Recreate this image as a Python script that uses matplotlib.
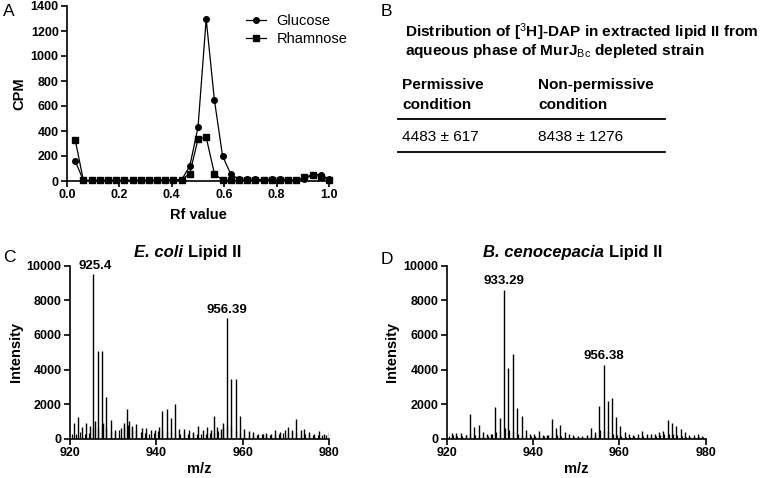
import matplotlib.pyplot as plt
import numpy as np
from matplotlib.lines import Line2D
from matplotlib.offsetbox import TextArea, HPacker, AnchoredOffsetbox

plt.rcParams['font.family'] = ['Liberation Sans', 'DejaVu Sans']
plt.rcParams['mathtext.fontset'] = 'custom'
plt.rcParams['mathtext.rm'] = 'Liberation Sans'
plt.rcParams['mathtext.it'] = 'Liberation Sans:italic'
plt.rcParams['mathtext.bf'] = 'Liberation Sans:bold'

# ===== panel A: radio-TLC fractions =====
rf = np.arange(1, 33) / 32
glucose = [160, 5, 5, 5, 5, 5, 5, 5, 5, 5, 10, 10, 10, 10, 120, 430,
           1295, 650, 200, 55, 15, 15, 15, 10, 15, 15, 10, 10, 15, 50, 50, 15]
rhamnose = [330, 5, 5, 5, 5, 5, 5, 5, 5, 5, 5, 5, 5, 10, 60, 335,
            350, 60, 5, 5, 5, 5, 5, 5, 5, 5, 5, 5, 30, 50, 35, 10]

# ===== panel C: E. coli lipid II spectrum (main peaks) =====
ec_mz = [920.9, 921.8, 922.8, 923.7, 924.6, 925.4, 925.8, 926.4, 927.4, 927.7,
         928.3, 929.4, 930.4, 931.8, 932.6, 933.3, 933.7, 934.4, 935.4, 936.6,
         937.6, 938.7, 939.7, 940.7, 941.4, 942.4, 943.3, 944.3, 945.3, 946.4,
         947.5, 948.6, 949.7, 950.7, 951.7, 952.7, 953.3, 954.0, 955.0, 955.4,
         956.4, 957.4, 958.4, 959.4, 960.4, 961.4, 962.5, 963.6, 964.6, 965.5,
         966.5, 967.6, 968.6, 969.7, 970.4, 971.4, 972.4, 973.4, 974.3, 975.4,
         976.5, 977.6, 978.8, 979.9]
ec_int = [890, 1270, 690, 880, 750, 9500, 1000, 5070, 5070, 890,
          2390, 1080, 500, 600, 920, 1700, 1000, 750, 830, 600,
          600, 480, 480, 700, 1600, 1700, 1200, 2000, 560, 560,
          520, 400, 750, 480, 700, 480, 1300, 680, 550, 900,
          6960, 3470, 3470, 1300, 560, 420, 370, 300, 250, 330,
          300, 480, 370, 520, 700, 520, 1150, 520, 550, 400,
          300, 450, 300, 400]
# minor baseline peaks, one per unit starting at 920.4
ec_minor = [300, 250, 400, 300, 350, 600, 700, 800, 600, 450,
            400, 500, 700, 800, 600, 500, 400, 350, 300, 350,
            450, 500, 450, 400, 350, 300, 350, 300, 250, 300,
            300, 250, 350, 400, 450, 700, 800, 750, 500, 350,
            250, 200, 200, 200, 250, 250, 200, 250, 300, 350,
            300, 400, 350, 300, 250, 250, 200, 200, 200, 200]

# ===== panel D: B. cenocepacia lipid II spectrum (main peaks) =====
bc_mz = [921.2, 922.2, 923.3, 924.3, 925.3, 926.3, 927.4, 928.4, 929.3, 930.3,
         931.2, 932.2, 933.2, 934.2, 935.2, 936.3, 937.3, 938.3, 939.2, 940.1,
         941.4, 942.3, 943.3, 944.3, 945.3, 946.3, 947.3, 948.3, 949.3, 950.3,
         951.3, 952.4, 953.4, 954.3, 955.2, 956.3, 957.3, 958.3, 959.3, 960.2,
         961.3, 962.3, 963.2, 964.2, 965.3, 966.3, 967.2, 968.2, 969.2, 970.2,
         971.2, 972.2, 973.2, 974.2, 975.2, 976.2, 977.2, 978.1, 979.1]
bc_int = [350, 350, 350, 200, 1430, 700, 770, 400, 300, 250,
          1830, 1180, 8600, 4070, 4880, 1750, 1310, 500, 300, 300,
          440, 200, 200, 1120, 640, 770, 370, 300, 200, 170,
          170, 200, 600, 300, 1890, 4260, 2180, 2370, 1230, 730,
          370, 250, 200, 250, 440, 300, 300, 300, 390, 440,
          1080, 920, 730, 580, 400, 200, 200, 250, 150]
bc_minor = [150, 200, 150, 150, 200, 250, 200, 150, 150, 150,
            300, 400, 500, 600, 500, 400, 300, 200, 150, 150,
            150, 150, 150, 200, 250, 200, 150, 100, 100, 100,
            100, 100, 150, 200, 400, 500, 500, 450, 300, 200,
            150, 100, 100, 150, 150, 150, 150, 150, 150, 200,
            300, 300, 250, 200, 150, 100, 100, 100, 100, 100]

fig = plt.figure(figsize=(7.67, 4.78), dpi=100)


def px(x, y):
    return x / 767, 1 - y / 478


def style(ax):
    for s in ['top', 'right']:
        ax.spines[s].set_visible(False)
    for s in ['left', 'bottom']:
        ax.spines[s].set_linewidth(1.2)
    ax.tick_params(direction='out', length=4, width=1.2, labelsize=9, pad=2)
    for lab in ax.get_xticklabels() + ax.get_yticklabels():
        lab.set_fontweight('bold')


def species_title(ax, species, x_frac):
    # italic species name followed by upright "Lipid II"
    box = HPacker(children=[
        TextArea(species, textprops=dict(fontsize=12, fontweight='bold', style='italic')),
        TextArea('Lipid II', textprops=dict(fontsize=12, fontweight='bold'))],
        align='baseline', pad=0, sep=4)
    anchored = AnchoredOffsetbox(loc='lower center', child=box, frameon=False, pad=0,
                                 bbox_to_anchor=(x_frac, 1.035),
                                 bbox_transform=ax.transAxes, borderpad=0)
    ax.add_artist(anchored)


# ---- A ----
axA = fig.add_axes([67 / 767, 1 - 181 / 478, 262 / 767, 175 / 478])
axA.plot(rf, glucose, '-o', color='black', lw=0.9, ms=4, label='Glucose', clip_on=False)
axA.plot(rf, rhamnose, '-s', color='black', lw=0.9, ms=4, label='Rhamnose', clip_on=False)
axA.set_xlim(0, 1.0)
axA.set_ylim(0, 1400)
axA.set_xticks(np.arange(0, 1.01, 0.2))
axA.set_xticklabels(['0.0', '0.2', '0.4', '0.6', '0.8', '1.0'])
axA.set_yticks(np.arange(0, 1401, 200))
style(axA)
axA.set_xlabel('Rf value', fontsize=10.5, fontweight='bold', labelpad=5)
axA.set_ylabel('CPM', fontsize=10.5, fontweight='bold', labelpad=3)
axA.legend(loc='upper right', bbox_to_anchor=(1.12, 1.03), frameon=False,
           fontsize=10.5, handlelength=1.4, handletextpad=0.7, labelspacing=0.3)

# ---- C ----
axC = fig.add_axes([70 / 767, 1 - 438.7 / 478, 259 / 767, 173 / 478])
axC.vlines(np.arange(920.4, 980, 1.0), 0, ec_minor, color='black', lw=0.9)
axC.vlines(ec_mz, 0, ec_int, color='black', lw=1.0)
axC.set_xlim(920, 980)
axC.set_ylim(0, 10000)
axC.set_xticks([920, 940, 960, 980])
axC.set_yticks(np.arange(0, 10001, 2000))
style(axC)
axC.set_xlabel('m/z', fontsize=10.5, fontweight='bold', labelpad=2)
axC.set_ylabel('Intensity', fontsize=10.5, fontweight='bold', labelpad=3)
species_title(axC, 'E. coli', 0.455)
axC.text(925.9, 9500 + 150, '925.4', ha='center', va='bottom', fontsize=9.5, fontweight='bold')
axC.text(956.39, 6960 + 150, '956.39', ha='center', va='bottom', fontsize=9.5, fontweight='bold')

# ---- D ----
axD = fig.add_axes([447 / 767, 1 - 438.7 / 478, 258.7 / 767, 173 / 478])
axD.vlines(np.arange(920.4, 980, 1.0), 0, bc_minor, color='black', lw=0.9)
axD.vlines(bc_mz, 0, bc_int, color='black', lw=1.0)
axD.set_xlim(920, 980)
axD.set_ylim(0, 10000)
axD.set_xticks([920, 940, 960, 980])
axD.set_yticks(np.arange(0, 10001, 2000))
style(axD)
axD.set_xlabel('m/z', fontsize=10.5, fontweight='bold', labelpad=2)
axD.set_ylabel('Intensity', fontsize=10.5, fontweight='bold', labelpad=3)
species_title(axD, 'B. cenocepacia', 0.485)
axD.text(933.29, 8600 + 150, '933.29', ha='center', va='bottom', fontsize=9.5, fontweight='bold')
axD.text(956.38, 4260 + 150, '956.38', ha='center', va='bottom', fontsize=9.5, fontweight='bold')

# ---- panel letters ----
for letter, (x, y) in {'A': (3, 11), 'B': (381, 12), 'C': (3, 258), 'D': (381, 259)}.items():
    fig.text(*px(x, y), letter, fontsize=12.5, ha='left', va='center')

# ---- B: table ----
fs = 11.1
fig.text(*px(405, 32), r'Distribution of [$^{3}$H]-DAP in extracted lipid II from',
         fontsize=fs, fontweight='bold', va='center')
fig.text(*px(405, 51), r'aqueous phase of MurJ$_{\mathrm{Bc}}$ depleted strain',
         fontsize=fs, fontweight='bold', va='center')
fig.text(*px(402, 85), 'Permissive', fontsize=fs, fontweight='bold', va='center')
fig.text(*px(402, 105), 'condition', fontsize=fs, fontweight='bold', va='center')
fig.text(*px(538, 85), 'Non-permissive', fontsize=fs, fontweight='bold', va='center')
fig.text(*px(538, 105), 'condition', fontsize=fs, fontweight='bold', va='center')
fig.text(*px(402, 137), '4483 \u00b1 617', fontsize=fs, va='center')
fig.text(*px(538, 137), '8438 \u00b1 1276', fontsize=fs, va='center')
for yy in [119, 152]:
    fig.add_artist(Line2D([398 / 767, 665 / 767], [1 - yy / 478] * 2,
                          color='black', lw=1.3, transform=fig.transFigure))

fig.savefig('out.png', dpi=100)
